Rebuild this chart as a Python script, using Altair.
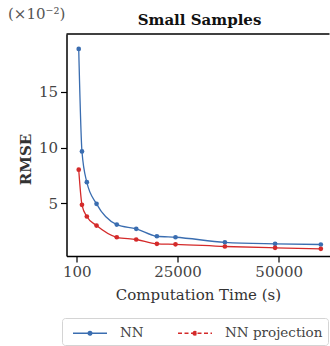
import altair as alt
import pandas as pd

# Data
series_names = ["NN", "NN projection"]
time_s = [600, 1400, 2600, 5000, 10000, 14800, 19900, 24500, 36700, 49100, 60400]
rmse_nn = [18.86, 9.67, 6.91, 4.97, 3.11, 2.73, 2.06, 1.97, 1.52, 1.38, 1.32]
rmse_nnp = [8.03, 4.88, 3.83, 3.02, 1.97, 1.77, 1.38, 1.34, 1.14, 1.02, 0.93]
x_ticks = [100, 25000, 50000]
y_ticks = [5, 10, 15]
colors = ["#3a6db0", "#d42a2a"]
title_text = "Small Samples"
exp_text = "(×10⁻²)"

rows = []
for t, v in zip(time_s, rmse_nn):
    rows.append({"time": t, "rmse": v, "series": series_names[0]})
for t, v in zip(time_s, rmse_nnp):
    rows.append({"time": t, "rmse": v, "series": series_names[1]})
df = pd.DataFrame(rows)
one = pd.DataFrame({"label": [title_text], "exp": [exp_text]})

W, H = 263, 222
FONT = "DejaVu Serif"

x_enc = alt.X(
    "time:Q",
    scale=alt.Scale(domain=[-2420, 62540], nice=False, zero=False),
    axis=alt.Axis(
        title="Computation Time (s)", values=x_ticks, format="d", grid=False,
        tickSize=6, labelPadding=2, titlePadding=8,
    ),
)
y_enc = alt.Y(
    "rmse:Q",
    scale=alt.Scale(domain=[0.29, 20.2], nice=False, zero=False),
    axis=alt.Axis(
        title="RMSE", values=y_ticks, grid=False, tickSize=6, labelPadding=3,
        titleFontWeight="bold", titleX=-41.5, titleY=125, titleAngle=270,
        titleAlign="center", titleBaseline="middle",
    ),
)
color_enc = alt.Color(
    "series:N",
    scale=alt.Scale(domain=series_names, range=colors),
    legend=alt.Legend(title=None),
)
dash_enc = alt.StrokeDash(
    "series:N",
    scale=alt.Scale(domain=series_names, range=[[1, 0], [4, 2.5]]),
    legend=alt.Legend(title=None),
)

lines = alt.Chart(df).mark_line(strokeWidth=1.3, interpolate="monotone").encode(
    x=x_enc, y=y_enc, color=color_enc, detail="series:N"
)
points = alt.Chart(df).mark_point(filled=True, size=22, opacity=1).encode(
    x="time:Q", y="rmse:Q", color=color_enc, strokeDash=dash_enc
)
top_rule = alt.Chart(one).mark_rule(color="black", strokeWidth=1.5).encode(
    x=alt.value(0), x2=alt.value(W), y=alt.value(0)
)
exp_label = alt.Chart(one).mark_text(
    font=FONT, fontSize=15, align="left", baseline="middle",
    color="#555", fontWeight="normal",
).encode(text="exp:N", x=alt.value(-58.5), y=alt.value(-20))
title_label = alt.Chart(one).mark_text(
    font=FONT, fontSize=15, align="center", baseline="alphabetic",
    color="#111", fontWeight="bold",
).encode(text="label:N", x=alt.value(133), y=alt.value(-9))

chart = (
    alt.layer(lines, points, top_rule, exp_label, title_label)
    .properties(
        width=W, height=H,
        autosize=alt.AutoSizeParams(type="none"),
        padding={"left": 66.5, "top": 34, "right": 0.5, "bottom": 90},
    )
    .configure_view(stroke=None)
    .configure_axis(
        labelFont=FONT, titleFont=FONT, labelFontSize=15, titleFontSize=15,
        labelColor="#444", titleColor="#333", domainColor="black", tickColor="black",
        domainWidth=1.5, tickWidth=1.2, titleFontWeight="normal",
    )
    .configure_legend(
        orient="none", legendX=-4.5, legendY=284, direction="horizontal", columns=2,
        strokeColor="#d4d4d4", fillColor="white", padding=5, cornerRadius=3,
        labelFont=FONT, labelFontSize=13.5, labelColor="#444", labelOffset=33,
        columnPadding=28,
        symbolType="M-0.444,0H3.333M1.254,0a0.19,0.19 0 1,0 0.38,0a0.19,0.19 0 1,0 -0.38,0",
        symbolSize=324, symbolStrokeWidth=1.6,
    )
)

chart.save("out.html", embed_options={"renderer": "svg", "actions": False})
